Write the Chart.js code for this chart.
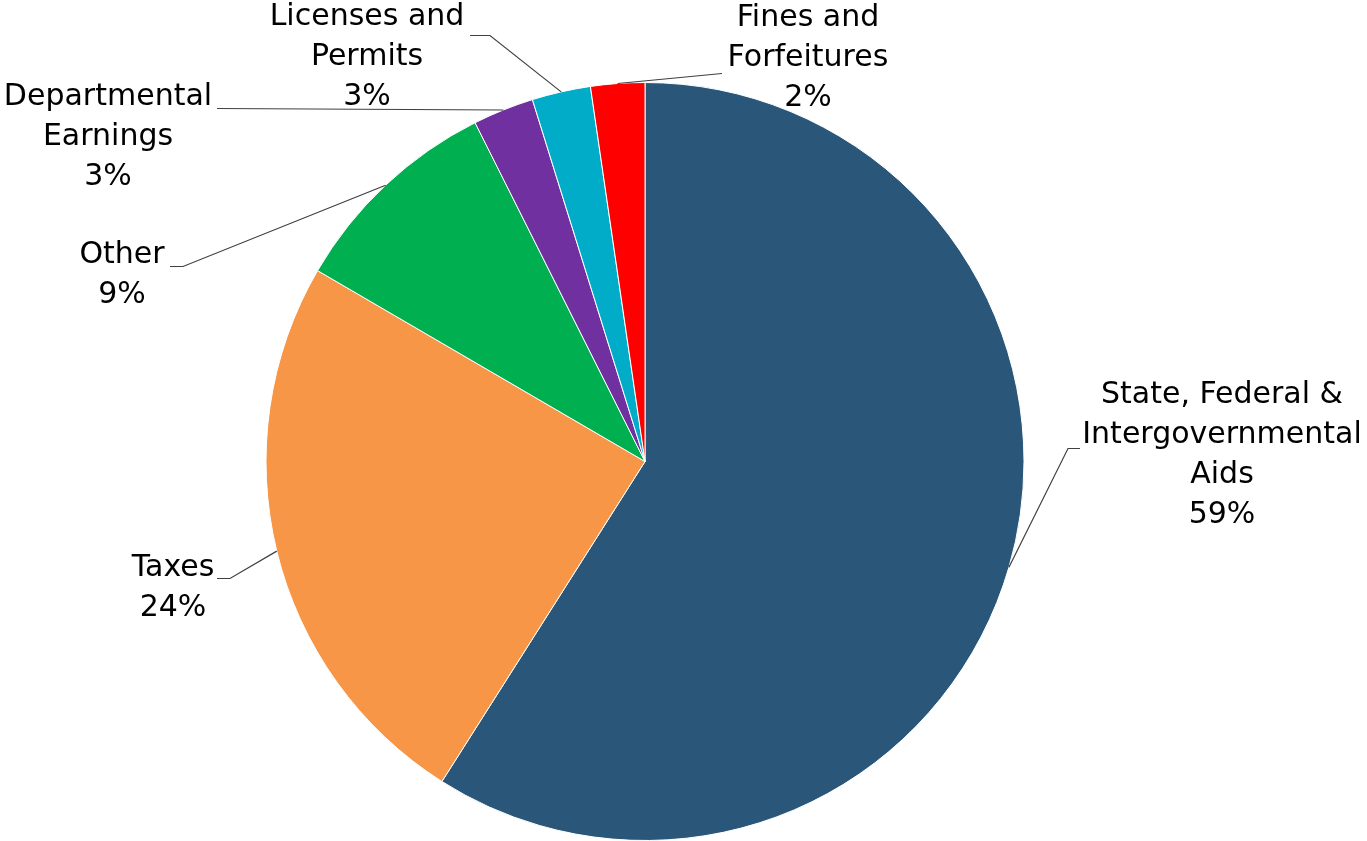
<!DOCTYPE html>
<html>
<head>
<meta charset="utf-8">
<script src="https://cdn.jsdelivr.net/npm/chart.js@4/dist/chart.umd.min.js"></script>
<style>
  html, body { margin: 0; padding: 0; background: #fff; }
  #wrap { width: 1367px; height: 841px; }
</style>
</head>
<body>
<div id="wrap"><canvas id="pie"></canvas></div>
<script>
var categories = [
    ['State, Federal &', 'Intergovernmental', 'Aids'],
    ['Taxes'],
    ['Other'],
    ['Departmental', 'Earnings'],
    ['Licenses and', 'Permits'],
    ['Fines and', 'Forfeitures']
];
var shares = [59.0, 24.4, 9.2, 2.6, 2.5, 2.3];
var colors = [
    '#2A5779', // state / federal
    '#F79646', // taxes
    '#00B050', // other
    '#7030A0', // departmental
    '#00ACC8', // licenses
    '#FF0000'  // fines
];

// where each label sits relative to the pie centre: text centre x / first line y,
// leader elbow and the end of the short horizontal tick
var labelPlaces = [
    { tx: 577, ty: -66, ex: 423, ey: -13, hx: 435 },
    { tx: -472, ty: 107, ex: -415, ey: 117, hx: -428 },
    { tx: -523, ty: -206, ex: -462, ey: -195, hx: -475 },
    { tx: -537, ty: -364, ex: -428, ey: -353, hx: -428 },
    { tx: -278, ty: -444, ex: -155, ey: -426, hx: -175 },
    { tx: 163, ty: -443, ex: 77, ey: -388, hx: 77 }
];

var calloutPlugin = {
    id: 'callouts',
    afterDatasetsDraw: function (chart) {
        var ctx = chart.ctx;
        var meta = chart.getDatasetMeta(0);
        var total = shares.reduce(function (a, b) { return a + b; }, 0);
        ctx.save();
        ctx.font = '30px "DejaVu Sans", sans-serif';
        ctx.textAlign = 'center';
        ctx.textBaseline = 'middle';
        meta.data.forEach(function (arc, i) {
            var p = arc.getProps(['x', 'y', 'startAngle', 'endAngle', 'outerRadius']);
            var mid = (p.startAngle + p.endAngle) / 2;
            var ax = p.x + Math.cos(mid) * p.outerRadius;
            var ay = p.y + Math.sin(mid) * p.outerRadius;
            var pl = labelPlaces[i];

            ctx.strokeStyle = '#404040';
            ctx.lineWidth = 1.2;
            ctx.beginPath();
            ctx.moveTo(ax, ay);
            ctx.lineTo(p.x + pl.ex, p.y + pl.ey);
            ctx.lineTo(p.x + pl.hx, p.y + pl.ey);
            ctx.stroke();

            var lines = categories[i].concat([Math.round(shares[i] / total * 100) + '%']);
            ctx.fillStyle = '#000';
            lines.forEach(function (t, k) {
                ctx.fillText(t, p.x + pl.tx, p.y + pl.ty + k * 40);
            });
        });
        ctx.restore();
    }
};

new Chart(document.getElementById('pie'), {
    type: 'pie',
    data: {
        labels: categories.map(function (c) { return c.join(' '); }),
        datasets: [{
            data: shares,
            backgroundColor: colors,
            borderColor: '#ffffff',
            borderWidth: 1
        }]
    },
    options: {
        responsive: true,
        maintainAspectRatio: false,
        animation: false,
        layout: { padding: { top: 82, bottom: 0, left: 0, right: 77 } },
        plugins: {
            legend: { display: false },
            tooltip: { enabled: false }
        }
    },
    plugins: [calloutPlugin]
});
</script>
</body>
</html>
